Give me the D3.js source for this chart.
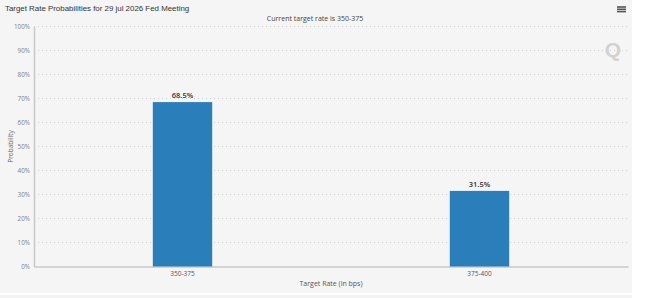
<!DOCTYPE html>
<html>
<head>
<meta charset="utf-8">
<script src="https://cdn.jsdelivr.net/npm/d3@7"></script>
<style>
  body { margin: 0; background: #fff; }
  svg { display: block; }
</style>
</head>
<body>
<div id="chart"></div>
<script>
// chart data
const categories = ["350-375", "375-400"];
const probabilities = [68.5, 31.5];
const yTicks = [0, 10, 20, 30, 40, 50, 60, 70, 80, 90, 100];
const titleText = "Target Rate Probabilities for 29 jul 2026 Fed Meeting";
const subtitleText = "Current target rate is 350-375";

const W = 650, H = 298;
const margin = { top: 26.5, right: 22, bottom: 31.5, left: 34 };
const smallFont = "'Open Sans', 'DejaVu Sans', sans-serif";

let svg = d3.select("#chart").append("svg")
    .attr("width", W)
    .attr("height", H);

// panel background
svg.append("rect").attr("x", 0).attr("y", 0).attr("width", 632).attr("height", 293).attr("fill", "#f5f5f5");
svg.append("rect").attr("x", 0).attr("y", 295).attr("width", 632).attr("height", 3).attr("fill", "#f3f3f3");

let x = d3.scaleBand()
    .domain(categories)
    .range([margin.left, W - margin.right])
    .paddingInner(0.8)
    .paddingOuter(0.4);

let y = d3.scaleLinear()
    .domain([0, 100])
    .range([H - margin.bottom, margin.top]);

// grid lines
svg.selectAll(".grid")
    .data(yTicks.filter(d => d > 0))
    .enter()
    .append("line")
    .attr("class", "grid")
    .attr("x1", margin.left)
    .attr("x2", W - margin.right)
    .attr("y1", d => y(d))
    .attr("y2", d => y(d))
    .attr("stroke", "#cfcfcf")
    .attr("stroke-width", 1)
    .attr("stroke-dasharray", "1,3");

// y axis
let yAxis = svg.append("g")
    .attr("class", "y-axis")
    .attr("transform", `translate(${margin.left},0)`)
    .call(d3.axisLeft(y).tickValues(yTicks).tickSize(0).tickPadding(4).tickFormat(d => d + "%"));
yAxis.select(".domain").attr("stroke", "#c8c8c8").attr("stroke-width", 1.5);
yAxis.selectAll("text")
    .attr("font-family", smallFont)
    .attr("font-size", "6.3px")
    .attr("fill", "#808080");

// x axis
let xAxis = svg.append("g")
    .attr("class", "x-axis")
    .attr("transform", `translate(0,${y(0)})`)
    .call(d3.axisBottom(x).tickSize(0).tickPadding(5));
xAxis.select(".domain").attr("stroke", "#c8c8c8").attr("stroke-width", 1.5);
xAxis.selectAll("text")
    .attr("font-family", smallFont)
    .attr("font-size", "6.5px")
    .attr("fill", "#555");

// bars
svg.selectAll(".mybar")
    .data(probabilities)
    .enter()
    .append("rect")
    .attr("class", "mybar")
    .attr("x", (d, i) => x(categories[i]))
    .attr("y", d => y(d))
    .attr("width", x.bandwidth())
    .attr("height", d => y(0) - y(d))
    .attr("fill", "#2a7fba");

// bar value labels
svg.selectAll(".barlabel")
    .data(probabilities)
    .enter()
    .append("text")
    .attr("class", "barlabel")
    .attr("x", (d, i) => x(categories[i]) + x.bandwidth() / 2)
    .attr("y", d => y(d) - 4)
    .attr("text-anchor", "middle")
    .attr("font-family", smallFont)
    .attr("font-size", "7.5px")
    .attr("font-weight", "600")
    .attr("fill", "#333")
    .text(d => d.toFixed(1) + "%");

// titles
svg.append("text")
    .attr("x", 5)
    .attr("y", 11)
    .attr("font-family", "'Liberation Sans', Arial, sans-serif")
    .attr("font-size", "7.9px")
    .attr("fill", "#333")
    .text(titleText);

svg.append("text")
    .attr("x", 315)
    .attr("y", 21)
    .attr("text-anchor", "middle")
    .attr("font-family", smallFont)
    .attr("font-size", "7px")
    .attr("fill", "#444")
    .text(subtitleText);

svg.append("text")
    .attr("x", (margin.left + W - margin.right) / 2)
    .attr("y", 285.5)
    .attr("text-anchor", "middle")
    .attr("font-family", smallFont)
    .attr("font-size", "7px")
    .attr("fill", "#555")
    .text("Target Rate (in bps)");

svg.append("text")
    .attr("transform", `translate(12.5,${(y(0) + y(100)) / 2}) rotate(-90)`)
    .attr("text-anchor", "middle")
    .attr("font-family", smallFont)
    .attr("font-size", "6.5px")
    .attr("fill", "#666")
    .text("Probability");

// menu icon
[7, 9.3, 11.6].forEach(function (yy) {
    svg.append("rect")
        .attr("x", 617).attr("y", yy - 0.8)
        .attr("width", 9).attr("height", 1.6)
        .attr("fill", "#555");
});

// watermark
svg.append("text")
    .attr("x", 613)
    .attr("y", 57)
    .attr("text-anchor", "middle")
    .attr("font-family", "'Liberation Sans', Arial, sans-serif")
    .attr("font-size", "21px")
    .attr("font-weight", "bold")
    .attr("fill", "#d2d2d2")
    .text("Q");
</script>
</body>
</html>
